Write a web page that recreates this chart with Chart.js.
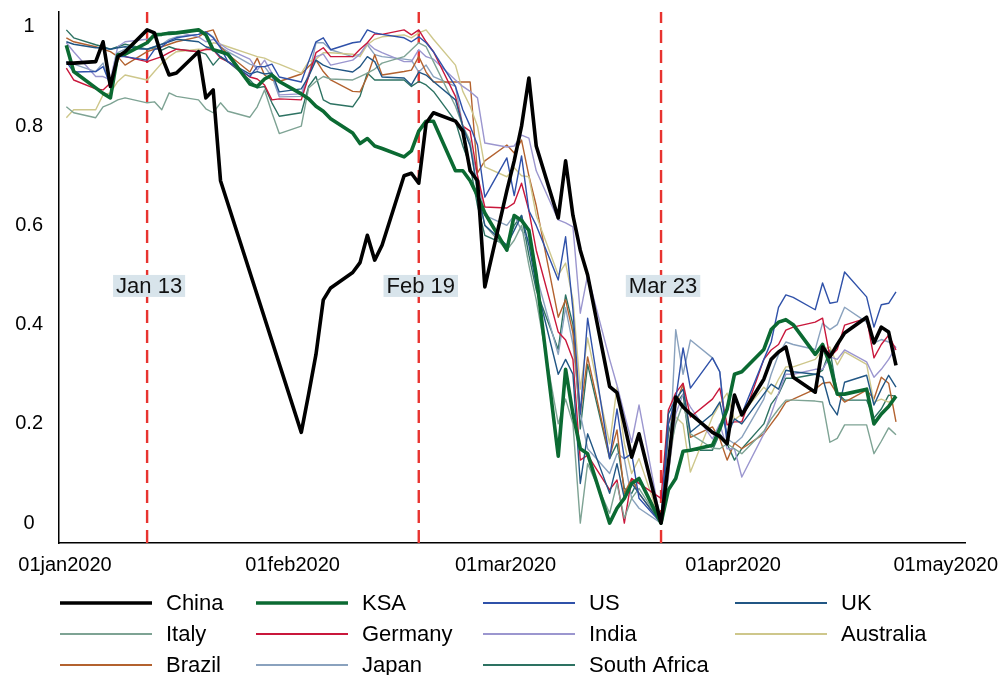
<!DOCTYPE html>
<html>
<head>
<meta charset="utf-8">
<script src="https://cdn.jsdelivr.net/npm/chart.js@4.4.1/dist/chart.umd.min.js"></script>
<style>
  html, body { margin: 0; padding: 0; background: #ffffff; }
  #wrap { width: 998px; height: 675px; }
</style>
</head>
<body>
<div id="wrap"><canvas id="c" width="998" height="675"></canvas></div>
<script>
// Trading days, by month (2020)
const janDays = [2, 3, 6, 7, 8, 9, 10, 13, 14, 15, 16, 17, 20, 21, 22, 23, 24, 27, 28, 29, 30, 31];
const febDays = [3, 4, 5, 6, 7, 10, 11, 12, 13, 14, 17, 18, 19, 20, 21, 24, 25, 26, 27, 28];
const marDays = [2, 3, 4, 5, 6, 9, 10, 11, 12, 13, 16, 17, 18, 19, 20, 23, 24, 25, 26, 27, 30, 31];
const aprDays = [1, 2, 3, 6, 7, 8, 9, 10, 13, 14, 15, 16, 17, 20, 21, 22, 23, 24];

// Normalised index levels (0 = period low, 1 = period high), one value per trading day
const china = [
  0.927, 0.927, 0.93, 0.97, 0.88, 0.94, 0.95, 0.994, 0.988, 0.94, 0.903, 0.907, 0.95, 0.857, 0.873, 0.69, null, null, null, null, null, null,
  0.183, 0.26, 0.34, 0.45, 0.474, 0.505, 0.525, 0.58, 0.53, 0.56, 0.70, 0.705, 0.685, 0.806, 0.827, 0.81, 0.79, 0.71, 0.69, 0.476,
  0.67, 0.73, 0.80, 0.897, 0.76, 0.615, 0.73, 0.62, 0.55, 0.50, 0.275, 0.263, 0.20, 0.133, 0.18, 0.0, 0.12, 0.254, 0.234, 0.22, 0.183, 0.175,
  0.16, 0.258, 0.218, 0.29, 0.33, 0.345, 0.355, 0.294, 0.264, 0.355, 0.335, 0.36, 0.383, 0.415, 0.363, 0.395, 0.385, 0.318
];
const ksa = [
  0.963, 0.91, 0.877, 0.866, 0.857, 0.944, 0.945, 0.968, 0.984, 0.985, 0.987, 0.988, 0.994, 0.984, 0.954, 0.95, 0.945, 0.885, 0.88, 0.895, 0.903, 0.89,
  0.865, 0.855, 0.84, 0.83, 0.815, 0.786, 0.765, 0.775, 0.76, 0.755, 0.738, 0.75, 0.79, 0.81, 0.81, 0.71, 0.71, 0.69, 0.66, 0.625,
  0.55, 0.62, 0.61, 0.59, 0.50, 0.135, 0.31, 0.22, 0.15, 0.14, 0.0, 0.03, 0.05, 0.08, 0.09, 0.0, 0.067, 0.09, 0.145, 0.147, 0.157, 0.19,
  0.23, 0.30, 0.305, 0.35, 0.39, 0.405, 0.41, 0.40, 0.34, 0.36, 0.32, 0.26, 0.26, 0.27, 0.20, 0.22, 0.235, 0.256
];
const us = [
  0.93, 0.909, 0.91, 0.92, 0.883, 0.94, 0.94, 0.933, 0.954, 0.96, 0.972, 0.978, 0.985, 0.99, 0.978, 0.958, 0.93, 0.90, 0.92, 0.92, 0.925, 0.899,
  0.889, 0.93, 0.97, 0.978, 0.954, 0.968, 0.97, 0.994, 0.988, 0.985, 0.978, 0.97, 0.98, 0.968, 0.95, 0.88, 0.833, 0.80, 0.762, 0.657,
  0.736, 0.66, 0.74, 0.63, 0.60, 0.49, 0.577, 0.43, 0.22, 0.413, 0.13, 0.23, 0.13, 0.14, 0.05, 0.0, 0.20, 0.25, 0.353, 0.272, 0.333, 0.305,
  0.157, 0.258, 0.22, 0.33, 0.365, 0.435, 0.46, 0.455, 0.43, 0.484, 0.443, 0.446, 0.506, 0.456, 0.395, 0.44, 0.443, 0.466
];
const uk = [
  0.97, 0.965, 0.958, 0.958, 0.955, 0.958, 0.96, 0.955, 0.96, 0.965, 0.97, 0.975, 0.97, 0.96, 0.955, 0.94, 0.93, 0.905, 0.91, 0.905, 0.907, 0.869,
  0.875, 0.90, 0.933, 0.923, 0.917, 0.909, 0.92, 0.94, 0.93, 0.899, 0.897, 0.883, 0.909, 0.903, 0.89, 0.853, 0.80, 0.76, 0.671, 0.60,
  0.56, 0.59, 0.62, 0.56, 0.48, 0.30, 0.33, 0.30, 0.08, 0.18, 0.06, 0.12, 0.05, 0.08, 0.06, 0.0, 0.22, 0.25, 0.27, 0.183, 0.22, 0.244,
  0.177, 0.21, 0.20, 0.26, 0.28, 0.27, 0.308, 0.305, 0.30, 0.294, 0.24, 0.218, 0.284, 0.298, 0.238, 0.27, 0.298, 0.274
];
const italy = [
  0.839, 0.827, 0.817, 0.839, 0.845, 0.853, 0.857, 0.847, 0.849, 0.833, 0.867, 0.86, 0.853, 0.835, 0.827, 0.847, 0.83, 0.818, 0.839, 0.873, 0.827, 0.785,
  0.80, 0.877, 0.89, 0.90, 0.895, 0.893, 0.90, 0.907, 0.915, 0.927, 0.94, 0.954, 0.968, 0.96, 0.93, 0.84, 0.80, 0.77, 0.66, 0.60,
  0.55, 0.57, 0.60, 0.52, 0.45, 0.20, 0.25, 0.20, 0.0, 0.12, 0.02, 0.08, 0.01, 0.05, 0.07, 0.0, 0.13, 0.20, 0.242, 0.18, 0.151, 0.15,
  0.16, 0.15, 0.14, 0.185, 0.21, 0.23, 0.248, 0.248, 0.246, 0.244, 0.163, 0.171, 0.198, 0.198, 0.14, 0.165, 0.192, 0.178
];
const germany = [
  0.917, 0.893, 0.875, 0.873, 0.887, 0.944, 0.94, 0.93, 0.935, 0.94, 0.948, 0.955, 0.95, 0.955, 0.954, 0.937, 0.93, 0.899, 0.895, 0.883, 0.853, 0.855,
  0.853, 0.90, 0.948, 0.958, 0.94, 0.94, 0.955, 0.968, 0.986, 0.985, 0.994, 0.984, 0.994, 0.97, 0.95, 0.86, 0.80, 0.79, 0.70, 0.637,
  0.635, 0.645, 0.685, 0.63, 0.55, 0.385, 0.369, 0.33, 0.127, 0.137, 0.067, 0.087, 0.0, 0.09, 0.08, 0.05, 0.228, 0.262, 0.282, 0.214, 0.25, 0.272,
  0.198, 0.204, 0.204, 0.33, 0.349, 0.36, 0.389, 0.395, 0.405, 0.413, 0.335, 0.35, 0.399, 0.413, 0.333, 0.36, 0.379, 0.349
];
const india = [
  0.968, 0.95, 0.90, 0.90, 0.893, 0.96, 0.97, 0.975, 0.98, 0.985, 0.99, 0.99, 0.98, 0.97, 0.975, 0.965, 0.955, 0.935, 0.913, 0.933, 0.907, 0.863,
  0.865, 0.905, 0.94, 0.945, 0.923, 0.933, 0.945, 0.968, 0.955, 0.948, 0.93, 0.93, 0.954, 0.94, 0.935, 0.893, 0.88, 0.87, 0.857, 0.766,
  0.758, 0.76, 0.782, 0.776, 0.71, 0.611, 0.605, 0.597, 0.423, 0.50, 0.33, 0.278, 0.22, 0.163, 0.238, 0.0, 0.10, 0.22, 0.26, 0.234, 0.17, 0.20,
  0.15, 0.15, 0.093, 0.18, 0.22, 0.262, 0.30, 0.30, 0.31, 0.31, 0.335, 0.33, 0.349, 0.325, 0.294, 0.31, 0.33, 0.355
];
const australia = [
  0.817, 0.833, 0.833, 0.863, 0.867, 0.89, 0.903, 0.893, 0.91, 0.927, 0.94, 0.95, 0.955, 0.954, 0.968, 0.965, 0.96, 0.945, 0.94, 0.937, 0.93, 0.925,
  0.907, 0.93, 0.935, 0.948, 0.948, 0.945, 0.94, 0.964, 0.975, 0.98, 0.984, 0.978, 0.988, 0.994, 0.975, 0.923, 0.87, 0.84, 0.80, 0.718,
  0.698, 0.716, 0.70, 0.698, 0.62, 0.50, 0.524, 0.45, 0.27, 0.373, 0.16, 0.274, 0.16, 0.10, 0.13, 0.0, 0.10, 0.214, 0.20, 0.103, 0.214, 0.24,
  0.262, 0.208, 0.22, 0.274, 0.26, 0.29, 0.315, 0.315, 0.33, 0.349, 0.355, 0.319, 0.345, 0.32, 0.244, 0.25, 0.244, 0.252
];
const brazil = [
  0.978, 0.97, 0.96, 0.955, 0.95, 0.94, 0.923, 0.95, 0.955, 0.96, 0.965, 0.97, 0.98, 0.99, 0.994, 0.96, 0.945, 0.909, 0.937, 0.903, 0.893, 0.89,
  0.905, 0.92, 0.933, 0.91, 0.893, 0.87, 0.869, 0.90, 0.944, 0.903, 0.91, 0.913, 0.94, 0.909, 0.889, 0.889, 0.889, 0.889, 0.706, 0.73,
  0.762, 0.746, 0.772, 0.70, 0.64, 0.415, 0.45, 0.383, 0.22, 0.335, 0.133, 0.188, 0.06, 0.09, 0.06, 0.0, 0.20, 0.24, 0.28, 0.173, 0.194, 0.17,
  0.127, 0.161, 0.15, 0.18, 0.20, 0.22, 0.244, 0.25, 0.27, 0.282, 0.284, 0.26, 0.244, 0.268, 0.25, 0.294, 0.282, 0.204
];
const japan = [
  0.927, 0.925, 0.91, 0.927, 0.88, 0.948, 0.955, 0.955, 0.96, 0.965, 0.975, 0.98, 0.985, 0.99, 0.98, 0.96, 0.95, 0.925, 0.92, 0.92, 0.90, 0.859,
  0.86, 0.90, 0.968, 0.968, 0.954, 0.94, 0.945, 0.964, 0.944, 0.94, 0.935, 0.933, 0.909, 0.923, 0.90, 0.88, 0.80, 0.76, 0.70, 0.62,
  0.60, 0.62, 0.59, 0.57, 0.50, 0.34, 0.434, 0.36, 0.22, 0.15, 0.10, 0.14, 0.13, 0.05, 0.03, 0.0, 0.09, 0.39, 0.30, 0.369, 0.333, 0.305,
  0.17, 0.16, 0.173, 0.25, 0.30, 0.34, 0.365, 0.36, 0.35, 0.403, 0.39, 0.40, 0.435, 0.405, 0.363, 0.37, 0.365, 0.355
];
const southAfrica = [
  0.994, 0.978, 0.964, 0.96, 0.955, 0.96, 0.965, 0.955, 0.958, 0.953, 0.96, 0.955, 0.95, 0.945, 0.923, 0.94, 0.93, 0.893, 0.877, 0.88, 0.847, 0.82,
  0.827, 0.88, 0.90, 0.853, 0.845, 0.839, 0.86, 0.907, 0.893, 0.893, 0.893, 0.88, 0.89, 0.883, 0.87, 0.81, 0.76, 0.72, 0.64, 0.58,
  0.56, 0.60, 0.62, 0.54, 0.47, 0.35, 0.46, 0.40, 0.19, 0.32, 0.13, 0.16, 0.07, 0.06, 0.09, 0.0, 0.18, 0.24, 0.26, 0.147, 0.147, 0.18,
  0.16, 0.127, 0.15, 0.20, 0.24, 0.26, 0.292, 0.292, 0.30, 0.308, 0.349, 0.262, 0.248, 0.248, 0.212, 0.23, 0.258, 0.256
];

// Axis ticks and event markers
const monthTicks = ['2020-01-01', '2020-02-01', '2020-03-01', '2020-04-01', '2020-05-01'];
const monthTickLabels = ['01jan2020', '01feb2020', '01mar2020', '01apr2020', '01may2020'];
const yTicks = [0, 0.2, 0.4, 0.6, 0.8, 1];
const yTickLabels = ['0', '0.2', '0.4', '0.6', '0.8', '1'];
const eventDates = ['2020-01-13', '2020-02-19', '2020-03-23'];
const eventLabels = ['Jan 13', 'Feb 19', 'Mar 23'];

// Series names and styling
const seriesNames = ['China', 'KSA', 'US', 'UK', 'Italy', 'Germany', 'India', 'Australia', 'Brazil', 'Japan', 'South Africa'];
const seriesValues = [china, ksa, us, uk, italy, germany, india, australia, brazil, japan, southAfrica];
const seriesColors = ['#000000', '#0b6a32', '#2f51a9', '#215684', '#7ea394', '#c9173b', '#9b96cf', '#cec78b', '#b3622f', '#8aa2be', '#2d7262'];
const seriesWidths = [3.6, 3.6, 1.4, 1.4, 1.4, 1.4, 1.4, 1.4, 1.4, 1.4, 1.4];

// Layout / style constants
const Y_MIN = -0.04, Y_MAX = 1.03;
const X_MAX = 123.4;
const FONT = '"Liberation Sans", Arial, Helvetica, sans-serif';
const EVENT_LABEL_Y = 0.478;
const LEGEND_COLS = [60, 256, 483, 735];
const LEGEND_SAMPLE = 92;

const dayOf = (iso) => {
  const [yy, mm, dd] = iso.split('-').map(Number);
  return (Date.UTC(yy, mm - 1, dd) - Date.UTC(2020, 0, 1)) / 86400000;
};
const pad = (n) => String(n).padStart(2, '0');
const tradingDates = [].concat(
  janDays.map(d => '2020-01-' + pad(d)),
  febDays.map(d => '2020-02-' + pad(d)),
  marDays.map(d => '2020-03-' + pad(d)),
  aprDays.map(d => '2020-04-' + pad(d))
);
const xs = tradingDates.map(dayOf);

const datasets = seriesNames.map((name, k) => ({
  label: name,
  data: xs.map((x, i) => ({ x: x, y: seriesValues[k][i] })),
  borderColor: seriesColors[k],
  borderWidth: seriesWidths[k],
  pointRadius: 0,
  tension: 0,
  spanGaps: true,
  fill: false,
  borderJoinStyle: 'round'
}));
// dashed vertical event lines (listed last so they sit beneath the series)
eventDates.forEach(d => {
  datasets.push({
    label: '',
    isEvent: true,
    data: [{ x: dayOf(d), y: Y_MIN }, { x: dayOf(d), y: Y_MAX }],
    borderColor: '#e8332f',
    borderWidth: 2.4,
    borderDash: [13, 7],
    pointRadius: 0,
    fill: false
  });
});

const overlay = {
  id: 'overlay',
  afterDatasetsDraw(chart) {
    const { ctx } = chart;
    const x = chart.scales.x, y = chart.scales.y;
    ctx.save();
    ctx.font = '22px ' + FONT;
    ctx.textAlign = 'center';
    ctx.textBaseline = 'middle';
    eventDates.forEach((d, i) => {
      const px = x.getPixelForValue(dayOf(d)) + 2;
      const py = y.getPixelForValue(EVENT_LABEL_Y);
      const w = ctx.measureText(eventLabels[i]).width + 6;
      ctx.fillStyle = '#d8e4eb';
      ctx.fillRect(px - w / 2, py - 11, w, 22);
      ctx.fillStyle = '#111111';
      ctx.fillText(eventLabels[i], px, py + 1);
    });
    ctx.restore();
  },
  afterDraw(chart) {
    const { ctx } = chart;
    const x = chart.scales.x;
    ctx.save();
    // month labels along the time axis, kept inside the canvas
    ctx.font = '20px ' + FONT;
    ctx.fillStyle = '#000000';
    ctx.textAlign = 'center';
    ctx.textBaseline = 'middle';
    x.ticks.forEach((t, i) => {
      const text = monthTickLabels[i];
      const w = ctx.measureText(text).width;
      let cx = x.getPixelForValue(t.value) + 6;
      cx = Math.min(Math.max(cx, w / 2 + 2), chart.width - w / 2);
      ctx.fillText(text, cx, x.top + 22);
    });
    // legend: four columns, three rows
    ctx.font = '22px ' + FONT;
    ctx.textAlign = 'left';
    const items = chart.data.datasets.filter(ds => !ds.isEvent);
    items.forEach((ds, i) => {
      const col = i % 4, row = Math.floor(i / 4);
      const lx = LEGEND_COLS[col];
      const ly = x.top + 60 + row * 31;
      ctx.strokeStyle = ds.borderColor;
      ctx.lineWidth = Math.max(ds.borderWidth, 2.2);
      ctx.beginPath();
      ctx.moveTo(lx, ly);
      ctx.lineTo(lx + LEGEND_SAMPLE, ly);
      ctx.stroke();
      ctx.fillStyle = '#000000';
      ctx.fillText(ds.label, lx + LEGEND_SAMPLE + 14, ly + 1);
    });
    ctx.restore();
  }
};

new Chart(document.getElementById('c'), {
  type: 'line',
  data: { datasets: datasets },
  options: {
    responsive: false,
    animation: false,
    devicePixelRatio: 1,
    layout: { padding: { top: 12, right: 33, left: 0, bottom: 0 } },
    plugins: { legend: { display: false }, tooltip: { enabled: false } },
    scales: {
      x: {
        type: 'linear',
        min: 0,
        max: X_MAX,
        grid: { display: false, drawTicks: false },
        border: { display: true, color: '#000000', width: 1.5 },
        ticks: { display: false },
        afterBuildTicks: (s) => { s.ticks = monthTicks.map(m => ({ value: dayOf(m) })); },
        afterFit: (s) => { s.height = 132; s.paddingLeft = 0; s.paddingRight = 0; }
      },
      y: {
        min: Y_MIN,
        max: Y_MAX,
        grid: { display: false, drawTicks: false },
        border: { display: true, color: '#000000', width: 1.5 },
        ticks: {
          color: '#000000',
          font: { family: FONT, size: 20 },
          padding: 16,
          crossAlign: 'center',
          autoSkip: false,
          callback: (v, i) => yTickLabels[i]
        },
        afterBuildTicks: (s) => { s.ticks = yTicks.map(v => ({ value: v })); },
        afterFit: (s) => { s.width = 59; s.paddingTop = 0; s.paddingBottom = 0; }
      }
    }
  },
  plugins: [overlay]
});
</script>
</body>
</html>
